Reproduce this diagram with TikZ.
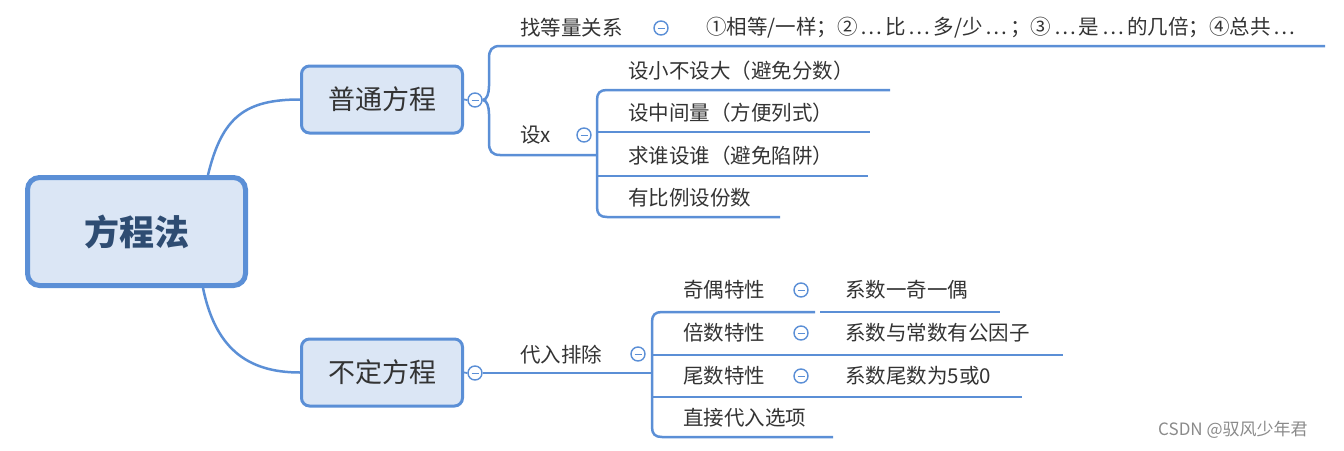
\documentclass[tikz,border=0pt]{standalone}
\usepackage{fontspec}
\setmainfont{Noto Sans CJK SC}
\definecolor{lineblue}{HTML}{5B8FD6}
\definecolor{boxfill}{HTML}{DBE6F5}
\definecolor{txt}{HTML}{333333}
\definecolor{roottxt}{HTML}{2E4C72}
\definecolor{wm}{HTML}{8A8A8A}
\newcommand{\myel}{\makebox[1.35em]{…}}
\begin{document}
\begin{tikzpicture}[x=1pt,y=-1pt,
  link/.style={draw=lineblue, line width=2.5pt},
  rootbox/.style={draw=lineblue, fill=boxfill, line width=5pt, rounded corners=12pt,
    minimum width=218pt, minimum height=108pt, text=roottxt,
    font=\fontsize{35}{40}\selectfont\bfseries},
  subbox/.style={draw=lineblue, fill=boxfill, line width=3pt, rounded corners=8pt,
    minimum width=161pt, minimum height=67pt, text=txt,
    font=\fontsize{27}{32}\selectfont},
  lbl/.style={anchor=west, inner sep=0pt, text=txt, font=\fontsize{20.5}{24}\selectfont},
  toggle/.style={circle, draw=lineblue, fill=white, line width=1.4pt,
    minimum size=14pt, inner sep=0pt,
    path picture={\draw[lineblue, line width=1pt]
      ([xshift=-3.5pt]path picture bounding box.center) --
      ([xshift=3.5pt]path picture bounding box.center);}}
]
\useasboundingbox (0,0) rectangle (1344,450);

% main boxes
\node[rootbox] (root) at (136.5,231.5) {\raisebox{-4pt}{方程法}};
\node[subbox] (b1) at (382,99.5) {普通方程};
\node[subbox] (b2) at (382,372.5) {不定方程};

\draw[link] ([xshift=-40pt]root.north east) .. controls +(14,-58) and +(-55,0) .. (b1.west);
\draw[link] ([xshift=-45pt]root.south east) .. controls +(12,58) and +(-55,0) .. (b2.west);

% ---------- 普通方程 ----------
\node[toggle] (t1) at (475,100) {};
\draw[link, line width=1.8pt] (b1.east) -- (t1.west);

\node[lbl] (n11) at (520,28) {找等量关系};
\node[toggle] (t11) at (661,28) {};
\node[lbl] (n111) at (706,28) {①相等/一样；②\myel 比\myel 多/少\myel ；③\myel 是\myel 的几倍；④总共\myel};

\node[lbl] (n12) at (520,135) {设x};
\node[toggle] (t12) at (584,135) {};

\coordinate (j12) at (597,155);
\draw[link] (t1.east) .. controls (487,100) and (489,93) .. (489,86) -- (489,58)
  .. controls (489,50) and (492,46) .. (500,46) -- (1325,46);
\draw[link] (t1.east) .. controls (487,100) and (489,107) .. (489,114) -- (489,143)
  .. controls (489,151) and (492,155) .. (500,155) -- (j12);

\node[lbl] (c1) at (628,71) {设小不设大（避免分数）};
\node[lbl] (c2) at (628,113) {设中间量（方便列式）};
\node[lbl] (c3) at (628,156) {求谁设谁（避免陷阱）};
\node[lbl] (c4) at (628,198) {有比例设份数};

\draw[link] (890,90) -- (607,90) .. controls (600,90) and (597,93) .. (597,100)
  -- (597,207) .. controls (597,214) and (600,217) .. (607,217) -- (780,217);
\draw[link] (597,132) -- (870,132);
\draw[link] (597,176) -- (868,176);

% ---------- 不定方程 ----------
\node[toggle] (t2) at (475,373) {};
\draw[link, line width=1.8pt] (b2.east) -- (t2.west);
\coordinate (j21) at (652,373);
\draw[link] (t2.east) -- (j21);

\node[lbl] (n21) at (520,355) {代入排除};
\node[toggle] (t21) at (638,354) {};

\draw[link] (815,312) -- (662,312) .. controls (655,312) and (652,315) .. (652,322)
  -- (652,427) .. controls (652,434) and (655,437) .. (662,437) -- (833,437);
\draw[link] (820,312) -- (1000,312);
\draw[link] (652,355) -- (1063,355);
\draw[link] (652,397) -- (1022,397);

\node[lbl] (d1) at (683,290) {奇偶特性};
\node[toggle] (td1) at (801,290) {};
\node[lbl] (e1) at (845,290) {系数一奇一偶};

\node[lbl] (d2) at (683,333) {倍数特性};
\node[toggle] (td2) at (801,333) {};
\node[lbl] (e2) at (845,333) {系数与常数有公因子};

\node[lbl] (d3) at (683,376) {尾数特性};
\node[toggle] (td3) at (801,376) {};
\node[lbl] (e3) at (845,376) {系数尾数为5或0};

\node[lbl] (d4) at (683,418) {直接代入选项};

% watermark
\node[anchor=west, inner sep=0pt, text=wm, font=\fontsize{17}{20}\selectfont] (wm) at (1158,430) {CSDN @驭风少年君};
\end{tikzpicture}
\end{document}
